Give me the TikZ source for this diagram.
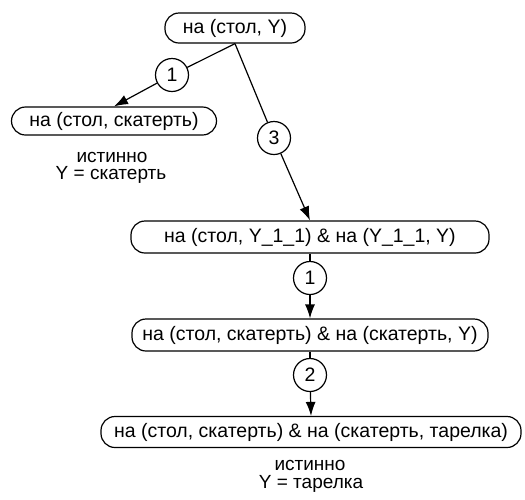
\documentclass[tikz,border=0pt]{standalone}
\usepackage{fontspec}
\setmainfont{Liberation Sans}
\usetikzlibrary{arrows.meta}
\begin{document}
\begin{tikzpicture}[x=1pt,y=-1pt,
  goal/.style={draw,line width=1.2pt,rounded corners=14pt,minimum height=30pt,inner sep=0pt,font=\fontsize{19.5}{22}\selectfont},
  num/.style={draw,circle,line width=1.2pt,minimum size=33pt,inner sep=0pt,font=\fontsize{19.5}{22}\selectfont},
  res/.style={font=\fontsize{19}{22}\selectfont,inner sep=0pt},
  link/.style={line width=1.2pt},
  arr/.style={line width=1.2pt,-{Latex[length=14pt,width=10pt]}}]
\useasboundingbox (0,0) rectangle (525,499);
\node[goal,minimum width=140pt] (top) at (235,28) {на (стол, Y)};
\node[goal,minimum width=205pt,minimum height=28pt] (left) at (114,121) {на (стол, скатерть)};
\node[goal,minimum width=358pt,minimum height=32pt] (n2) at (310,237) {на (стол, Y\_1\_1) \& на (Y\_1\_1, Y)};
\node[goal,minimum width=356pt,minimum height=32pt] (n3) at (310,335) {на (стол, скатерть) \& на (скатерть, Y)};
\node[goal,minimum width=420pt,minimum height=31pt] (n4) at (311,432) {на (стол, скатерть) \& на (скатерть, тарелка)};
\node[num] (c1) at (172,75) {1};
\node[num] (c3) at (274,138) {3};
\node[num] (c1b) at (310,278) {1};
\node[num] (c2) at (310,375) {2};
\node[res] (t1) at (112,157) {истинно};
\node[res] (y1) at (111,175) {Y = скатерть};
\node[res] (t2) at (310,465) {истинно};
\node[res] (y2) at (311,484) {Y = тарелка};
\draw[link] (top.south) -- (c1);
\draw[arr] (c1) -- (left.north);
\draw[link] (top.south) -- (c3);
\draw[arr] (c3) -- (n2.north);
\draw[link] (n2.south) -- (c1b);
\draw[arr] (c1b) -- (n3.north);
\draw[link] (n3.south) -- (c2);
\draw[arr] (c2) -- (n4.north);
\end{tikzpicture}
\end{document}
